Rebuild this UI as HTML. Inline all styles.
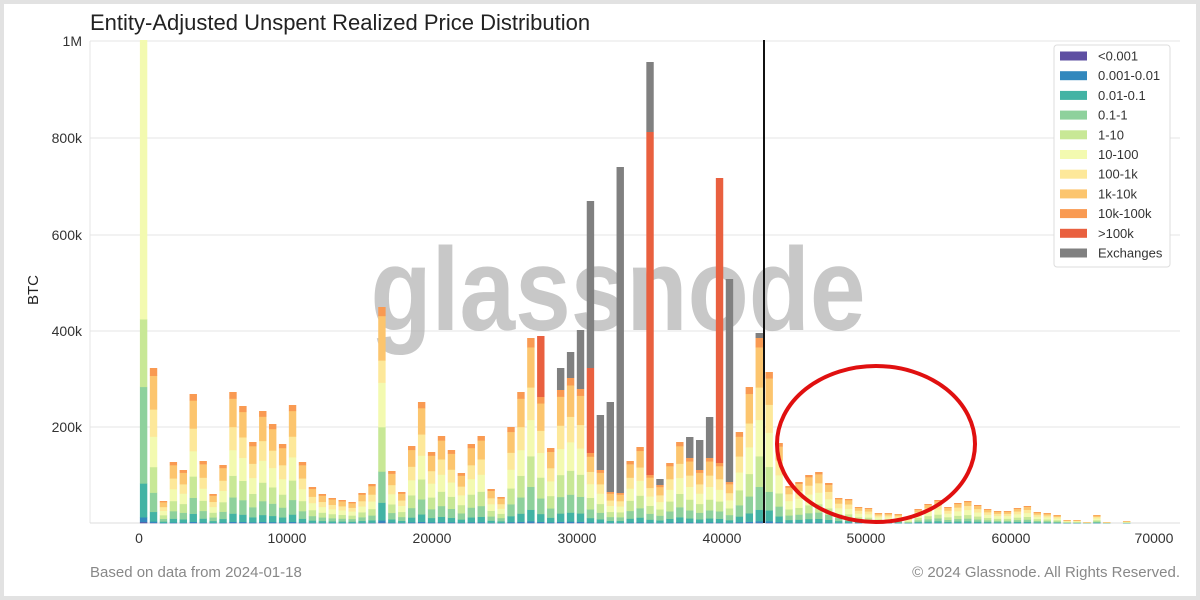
<!DOCTYPE html>
<html><head><meta charset="utf-8">
<style>
html,body{margin:0;padding:0;background:#fff;}
body{width:1200px;height:600px;overflow:hidden;font-family:"Liberation Sans",sans-serif;}
</style></head>
<body>
<svg id="s" width="1200" height="600" xmlns="http://www.w3.org/2000/svg" style="display:block">
<rect x="2" y="2" width="1196" height="596" fill="#fff" stroke="#e2e2e2" stroke-width="4"/>
<text x="90" y="30" font-size="22" fill="#222" font-family="Liberation Sans, sans-serif">Entity-Adjusted Unspent Realized Price Distribution</text>
<g stroke="#e4e4e4" stroke-width="1">
<line x1="90" y1="41" x2="1180" y2="41"/>
<line x1="90" y1="138" x2="1180" y2="138"/>
<line x1="90" y1="235" x2="1180" y2="235"/>
<line x1="90" y1="331" x2="1180" y2="331"/>
<line x1="90" y1="427" x2="1180" y2="427"/>
<line x1="90" y1="41" x2="90" y2="523"/>
</g>
<line x1="90" y1="523" x2="1180" y2="523" stroke="#ddd" stroke-width="1"/>
<g font-size="14" fill="#333" text-anchor="end">
<text x="82" y="46">1M</text>
<text x="82" y="143">800k</text>
<text x="82" y="240">600k</text>
<text x="82" y="336">400k</text>
<text x="82" y="432">200k</text>
</g>
<text transform="translate(38,290) rotate(-90)" font-size="15" fill="#222" text-anchor="middle">BTC</text>
<g font-size="14" fill="#333" text-anchor="middle">
<text x="139" y="543">0</text>
<text x="287" y="543">10000</text>
<text x="432" y="543">20000</text>
<text x="577" y="543">30000</text>
<text x="722" y="543">40000</text>
<text x="866" y="543">50000</text>
<text x="1011" y="543">60000</text>
<text x="1154" y="543">70000</text>
</g>
<text x="618" y="330" font-size="118" font-weight="bold" fill="#b0b0b0" fill-opacity="0.7" text-anchor="middle" textLength="495" lengthAdjust="spacingAndGlyphs">glassnode</text>
<g id="bars"></g>
<line x1="764" y1="40" x2="764" y2="523" stroke="#111" stroke-width="2"/>
<ellipse cx="876" cy="444" rx="99" ry="78" fill="none" stroke="#e01010" stroke-width="4"/>
<g id="leg">
<rect x="1054" y="45" width="116" height="222" fill="#fff" stroke="#ddd" rx="3"/>
</g>
<text x="90" y="577" font-size="15" fill="#888">Based on data from 2024-01-18</text>
<text x="1180" y="577" font-size="15" fill="#888" text-anchor="end">© 2024 Glassnode. All Rights Reserved.</text>
</svg>
<script>
(function(){
var C=["#5e4fa2","#3288bd","#42b3a4","#8ed19c","#c8e896","#f3fab0","#fde89a","#fcc56e","#f99a52","#e9603f","#808080"];
var L=["<0.001","0.001-0.01","0.01-0.1","0.1-1","1-10","10-100","100-1k","1k-10k","10k-100k",">100k","Exchanges"];
var NS="http://www.w3.org/2000/svg";
function R(p,x,y,w,h,c){var r=document.createElementNS(NS,"rect");r.setAttribute("x",x);r.setAttribute("y",y);r.setAttribute("width",w);r.setAttribute("height",h);r.setAttribute("fill",c);p.appendChild(r);}
function T(p,x,y,s){var t=document.createElementNS(NS,"text");t.setAttribute("x",x);t.setAttribute("y",y);t.setAttribute("font-size","13");t.setAttribute("fill","#333");t.textContent=s;p.appendChild(t);}
var lg=document.getElementById("leg");
for(var i=0;i<11;i++){var cy=56+i*19.7;R(lg,1060,cy-4.5,27,9,C[i]);T(lg,1098,cy+4.5,L[i]);}
var tops=[40,368,501,462,470,394,461,494,465,392,406,442,411,424,444,405,462,487,494,498,500,502,493,484,307,471,492,446,402,452,436,450,473,444,436,489,497,427,392,338,336,448,368,352,330,201,415,402,167,461,447,62,479,463,442,437,440,417,178,279,432,387,333,372,443,486,482,475,472,483,498,499,507,508,513,513,514,518,509,504,500,507,503,501,505,509,511,511,508,506,512,513,515,520,520,522,515,522,523,521];
var sp={40:[397,336,null],42:[390,null,368],43:[378,null,352],44:[389,null,330],45:[453,368,201],46:[470,null,415],47:[492,null,402],48:[493,null,167],51:[475,132,62],52:[485,null,479],55:[458,null,437],56:[470,null,440],57:[458,null,417],58:[463,178,null],59:[482,null,279],62:[338,null,333]};
var fr=[0.002,0.008,0.06,0.12,0.16,0.19,0.17,0.21,0.048];
var g=document.getElementById("bars");var Y0=523;
for(var i=0;i<tops.length;i++){
 var cx=143.6+i*9.93, w=7.4, x=cx-w/2;
 var tp=tops[i]; var s=sp[i]; var base=s?s[0]:tp;
 var H=Y0-base; if(H<=0) continue;
 var f=fr;
 if(i==0){f=[0.002,0.01,0.07,0.2,0.14,0.578,0,0,0];}
 if(i==24){f=[0.002,0.01,0.08,0.14,0.2,0.2,0.1,0.2,0.04];}
 if(i>=63){f=[0.002,0.01,0.07,0.12,0.16,0.22,0.18,0.17,0.04];}
 var sum=0;for(var k=0;k<9;k++)sum+=f[k];
 var y=Y0;
 for(var k=0;k<9;k++){var h=H*f[k]/sum;if(h<=0)continue;y-=h;R(g,x,y,w,h+0.3,C[k]);}
 if(s){ if(s[1]!==null){R(g,x,s[1],w,base-s[1],C[9]);} if(s[2]!==null){var gb=s[1]!==null?s[1]:base;R(g,x,s[2],w,gb-s[2],C[10]);} }
}
})();
</script>
</body></html>
